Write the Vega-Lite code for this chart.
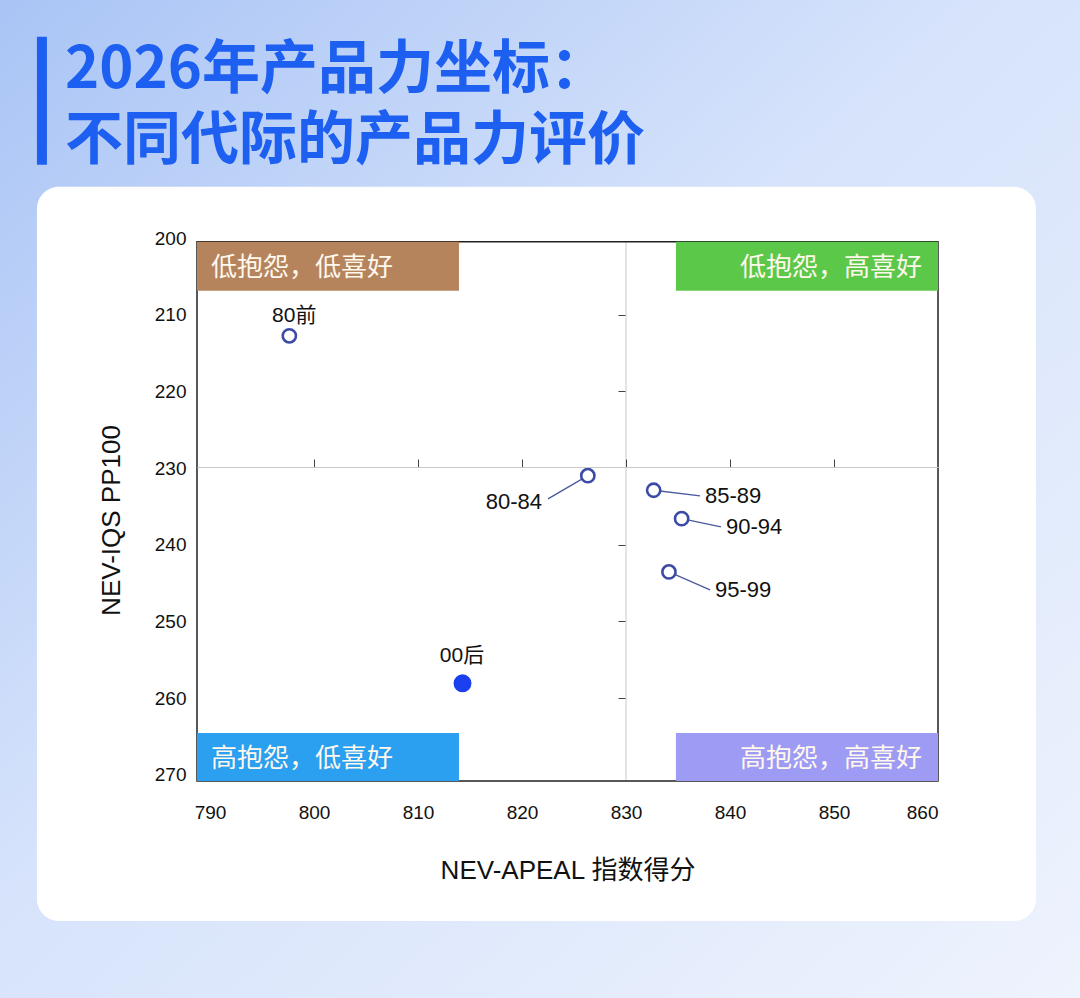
{
  "$schema": "https://vega.github.io/schema/vega-lite/v6.json",
  "width": 741,
  "height": 543,
  "autosize": {"type": "none"},
  "padding": {"left": 197, "top": 238, "right": 142, "bottom": 217},
  "background": "#dce7fb",
  "title": {
    "text": ["2026年产品力坐标：", "不同代际的产品力评价"],
    "anchor": "start",
    "frame": "group",
    "orient": "top",
    "offset": 0,
    "dx": -132,
    "dy": 172,
    "fontSize": 58,
    "font": "Noto Sans CJK SC",
    "fontWeight": "bold",
    "color": "#1d5ff0",
    "lineHeight": 71
  },
  "datasets": {
    "points": [
      {"name": "80前", "x": 797.63, "y": 212.76, "lx": 798.1, "ly": 210.11},
      {"name": "80-84", "x": 826.33, "y": 230.99, "lx": 822.5, "ly": 234.02},
      {"name": "85-89", "x": 832.66, "y": 232.89, "lx": 837.12, "ly": 233.63},
      {"name": "90-94", "x": 835.35, "y": 236.59, "lx": 839.13, "ly": 237.67},
      {"name": "95-99", "x": 834.13, "y": 243.54, "lx": 838.08, "ly": 245.89},
      {"name": "00后", "x": 814.28, "y": 258.06, "lx": 814.23, "ly": 254.5}
    ],
    "quads": [
      {"quad": "低抱怨，低喜好", "x1": 788.75, "x2": 813.94, "y1": 200.5, "y2": 206.89},
      {"quad": "低抱怨，高喜好", "x1": 834.8, "x2": 860, "y1": 200.5, "y2": 206.89},
      {"quad": "高抱怨，低喜好", "x1": 788.75, "x2": 813.94, "y1": 264.54, "y2": 270.8},
      {"quad": "高抱怨，高喜好", "x1": 834.8, "x2": 860, "y1": 264.54, "y2": 270.8}
    ]
  },
  "resolve": {"axis": {"x": "independent", "y": "independent"}},
  "layer": [
    {
      "data": {"values": [{}]},
      "mark": {
        "type": "rect",
        "clip": false,
        "strokeWidth": 0,
        "fill": {
          "gradient": "linear",
          "x1": 0, "y1": 0, "x2": 1, "y2": 1,
          "stops": [
            {"offset": 0, "color": "#a9c4f5"},
            {"offset": 0.45, "color": "#d6e3fb"},
            {"offset": 1, "color": "#eef3fd"}
          ]
        }
      },
      "encoding": {
        "x": {"datum": 769.8, "type": "quantitative", "scale": {"domain": [788.75, 860], "nice": false, "zero": false}, "axis": null},
        "x2": {"datum": 873.7},
        "y": {"datum": 168.9, "type": "quantitative", "scale": {"domain": [200, 270.8], "reverse": true, "nice": false, "zero": false}, "axis": null},
        "y2": {"datum": 299.2}
      }
    },
    {
      "data": {"values": [{}]},
      "mark": {"type": "rect", "clip": false, "fill": "#ffffff", "cornerRadius": 22},
      "encoding": {
        "x": {"datum": 773.36, "type": "quantitative", "axis": null},
        "x2": {"datum": 869.42},
        "y": {"datum": 193.33, "type": "quantitative", "axis": null},
        "y2": {"datum": 289.06}
      }
    },
    {
      "data": {"values": [{}]},
      "mark": {"type": "rect", "clip": false, "fill": "#1d5ff0"},
      "encoding": {
        "x": {"datum": 773.36, "type": "quantitative", "axis": null},
        "x2": {"datum": 774.32},
        "y": {"datum": 173.76, "type": "quantitative", "axis": null},
        "y2": {"datum": 190.46}
      }
    },
    {
      "data": {"values": [{}]},
      "mark": {"type": "rule", "stroke": "#c9c9c9", "strokeWidth": 1},
      "encoding": {
        "x": {"datum": 830, "type": "quantitative", "axis": null},
        "y": {"datum": 200.5, "type": "quantitative", "axis": null},
        "y2": {"datum": 270.8}
      }
    },
    {
      "data": {"values": [{}]},
      "mark": {"type": "rect", "clip": false, "fill": null, "fillOpacity": 0, "stroke": "#222222", "strokeWidth": 1.5},
      "encoding": {
        "x": {"datum": 788.75, "type": "quantitative", "axis": null},
        "x2": {"datum": 860},
        "y": {"datum": 200.5, "type": "quantitative", "axis": null},
        "y2": {"datum": 270.8}
      }
    },
    {
      "data": {"name": "quads"},
      "mark": {"type": "rect"},
      "encoding": {
        "x": {"field": "x1", "type": "quantitative", "axis": null},
        "x2": {"field": "x2"},
        "y": {"field": "y1", "type": "quantitative", "axis": null},
        "y2": {"field": "y2"},
        "fill": {
          "field": "quad", "type": "nominal", "legend": null,
          "scale": {
            "domain": ["低抱怨，低喜好", "低抱怨，高喜好", "高抱怨，低喜好", "高抱怨，高喜好"],
            "range": ["#b5845c", "#5cc84a", "#2b9ff0", "#9e9bf5"]
          }
        }
      }
    },
    {
      "data": {"name": "quads"},
      "transform": [{"filter": "indexof(datum.quad, '低喜好') >= 0"}],
      "mark": {"type": "text", "align": "left", "baseline": "middle", "dx": 14, "dy": 26, "fontSize": 26, "font": "Noto Sans CJK SC", "color": "#fff8ec"},
      "encoding": {
        "x": {"field": "x1", "type": "quantitative", "axis": null},
        "y": {"field": "y1", "type": "quantitative", "axis": null},
        "text": {"field": "quad"}
      }
    },
    {
      "data": {"name": "quads"},
      "transform": [{"filter": "indexof(datum.quad, '高喜好') >= 0"}],
      "mark": {"type": "text", "align": "right", "baseline": "middle", "dx": -16, "dy": 26, "fontSize": 26, "font": "Noto Sans CJK SC", "color": "#fff8ec"},
      "encoding": {
        "x": {"field": "x2", "type": "quantitative", "axis": null},
        "y": {"field": "y1", "type": "quantitative", "axis": null},
        "text": {"field": "quad"}
      }
    },
    {
      "data": {"name": "points"},
      "transform": [{"filter": "datum.name !== '80前' && datum.name !== '00后'"}],
      "mark": {"type": "rule", "stroke": "#4b5a9c", "strokeWidth": 1.3},
      "encoding": {
        "x": {
          "field": "x", "type": "quantitative",
          "axis": {
            "orient": "top", "offset": -229, "values": [800, 810, 820, 830, 840, 850],
            "labels": false, "title": null, "grid": false, "tickSize": 8, "tickColor": "#444444", "tickWidth": 1,
            "domainColor": "#c9c9c9", "domainWidth": 1, "zindex": 1
          }
        },
        "y": {
          "field": "y", "type": "quantitative",
          "axis": {
            "orient": "right", "offset": -313, "values": [210, 220, 240, 250, 260],
            "labels": false, "title": null, "grid": false, "tickSize": -7, "tickColor": "#444444", "tickWidth": 1,
            "domain": false, "zindex": 1
          }
        },
        "x2": {"field": "lx"},
        "y2": {"field": "ly"}
      }
    },
    {
      "data": {"name": "points"},
      "mark": {"type": "point", "shape": "circle", "strokeWidth": 2.6, "opacity": 1},
      "encoding": {
        "x": {
          "field": "x", "type": "quantitative",
          "axis": {
            "orient": "bottom", "values": [790, 800, 810, 820, 830, 840, 850, 860],
            "domain": false, "ticks": false, "tickSize": 0, "grid": false,
            "labelFontSize": 19, "labelColor": "#111111", "labelPadding": 22, "labelFont": "Liberation Sans",
            "title": "NEV-APEAL 指数得分", "titleFontSize": 26, "titleFontWeight": "normal", "titleColor": "#111111",
            "titleFont": "Liberation Sans, Noto Sans CJK SC", "titlePadding": 35, "zindex": 1
          }
        },
        "y": {
          "field": "y", "type": "quantitative",
          "axis": {
            "orient": "left", "values": [200, 210, 220, 230, 240, 250, 260, 270],
            "domain": false, "ticks": false, "tickSize": 0, "grid": false,
            "labelFontSize": 19, "labelColor": "#111111", "labelPadding": 11, "labelFont": "Liberation Sans",
            "title": "NEV-IQS PP100", "titleFontSize": 26, "titleFontWeight": "normal", "titleColor": "#111111",
            "titleFont": "Liberation Sans", "titlePadding": 30, "titleY": 282, "zindex": 1
          }
        },
        "size": {"condition": {"test": "datum.name === '00后'", "value": 235}, "value": 175},
        "fill": {"condition": {"test": "datum.name === '00后'", "value": "#1a40f0"}, "value": "#ffffff"},
        "stroke": {"condition": {"test": "datum.name === '00后'", "value": "#1a40f0"}, "value": "#3b4ba6"}
      }
    },
    {
      "data": {"name": "points"},
      "transform": [{"filter": "datum.name === '80前' || datum.name === '00后'"}],
      "mark": {"type": "text", "align": "center", "baseline": "middle", "fontSize": 21, "font": "Liberation Sans, Noto Sans CJK SC", "color": "#111111"},
      "encoding": {
        "x": {"field": "lx", "type": "quantitative", "axis": null},
        "y": {"field": "ly", "type": "quantitative", "axis": null},
        "text": {"field": "name"}
      }
    },
    {
      "data": {"name": "points"},
      "transform": [{"filter": "datum.name === '80-84'"}],
      "mark": {"type": "text", "align": "right", "baseline": "middle", "dx": -6, "dy": 3, "fontSize": 22, "font": "Liberation Sans", "color": "#111111"},
      "encoding": {
        "x": {"field": "lx", "type": "quantitative", "axis": null},
        "y": {"field": "ly", "type": "quantitative", "axis": null},
        "text": {"field": "name"}
      }
    },
    {
      "data": {"name": "points"},
      "transform": [{"filter": "datum.name === '85-89' || datum.name === '90-94' || datum.name === '95-99'"}],
      "mark": {"type": "text", "align": "left", "baseline": "middle", "dx": 5, "fontSize": 22, "font": "Liberation Sans", "color": "#111111"},
      "encoding": {
        "x": {"field": "lx", "type": "quantitative", "axis": null},
        "y": {"field": "ly", "type": "quantitative", "axis": null},
        "text": {"field": "name"}
      }
    }
  ],
  "config": {
    "view": {"stroke": null},
    "font": "Liberation Sans, Noto Sans CJK SC"
  }
}
